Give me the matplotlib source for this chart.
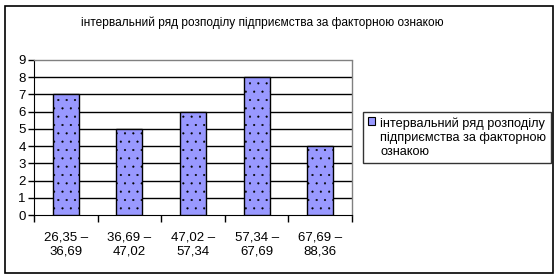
import numpy as np
import matplotlib
matplotlib.use("Agg")
import matplotlib.pyplot as plt
from matplotlib.patches import Rectangle

plt.rcParams["font.family"] = ["Liberation Sans", "DejaVu Sans"]
plt.rcParams["hatch.color"] = "#8383ee"
plt.rcParams["hatch.linewidth"] = 0.3

# Data
intervals = ["26,35 –\n36,69", "36,69 –\n47,02", "47,02 –\n57,34", "57,34 –\n67,69", "67,69 –\n88,36"]
counts = [7, 5, 6, 8, 4]
series_name = "інтервальний ряд розподілу\nпідприємства за факторною\nознакою"
title = "інтервальний ряд розподілу підприємства за факторною ознакою"

W, H = 560, 279
fig = plt.figure(figsize=(W / 100, H / 100), dpi=100)

# outer chart border
fig.patches.append(Rectangle((5 / W, 6 / H), 548 / W, 267 / H, transform=fig.transFigure,
                             fill=False, edgecolor="black", linewidth=1.2))

ax = fig.add_axes([34 / W, (H - 215) / H, (352 - 34) / W, (215 - 60) / H])
x = np.arange(len(counts))
ax.bar(x, counts, width=0.41, color="#9999ff", edgecolor="black", linewidth=1.0,
       hatch="..", zorder=3, label=series_name)

ax.set_xlim(-0.5, len(counts) - 0.5)
ax.set_ylim(0, 9)
ax.set_yticks(range(10))
for v in range(1, 9):
    ax.axhline(v, color="black", linewidth=1.0, zorder=1)

ax.set_xticks(x)
ax.set_xticklabels(intervals, fontsize=9.5, linespacing=1.25)
ax.tick_params(axis="x", length=0, pad=12)
ax.set_xticks(np.arange(-0.5, len(counts)), minor=True)
ax.tick_params(axis="x", which="minor", length=5, width=1, direction="out")
ax.tick_params(axis="y", length=4, width=1, direction="out", labelsize=9.5, pad=2)

ax.spines["left"].set_color("black")
ax.spines["bottom"].set_color("black")
for s in ["top", "right"]:
    ax.spines[s].set_color("#808080")
    ax.spines[s].set_linestyle((0, (1, 1)))
    ax.spines[s].set_linewidth(1.0)

fig.text(262 / W, 1 - 22.5 / H, title, ha="center", va="center", fontsize=8.6)

leg = fig.legend(loc="upper left", bbox_to_anchor=(363 / W, 1 - 112 / H), fontsize=9.2,
                 frameon=True, fancybox=False, edgecolor="black", handlelength=0.55,
                 handleheight=0.55, handletextpad=0.4, borderpad=0.4, borderaxespad=0)
leg.get_frame().set_linewidth(1.0)
for t in leg.get_texts():
    t.set_linespacing(1.25)
# put the swatch next to the first line, like Excel does
for row in leg._legend_handle_box.get_children():
    for hp in row.get_children():
        hp.align = "top"
for p in leg.get_patches():
    p.set_hatch(None)
    p.set_linewidth(0.8)

fig.savefig("out.png", dpi=100)
